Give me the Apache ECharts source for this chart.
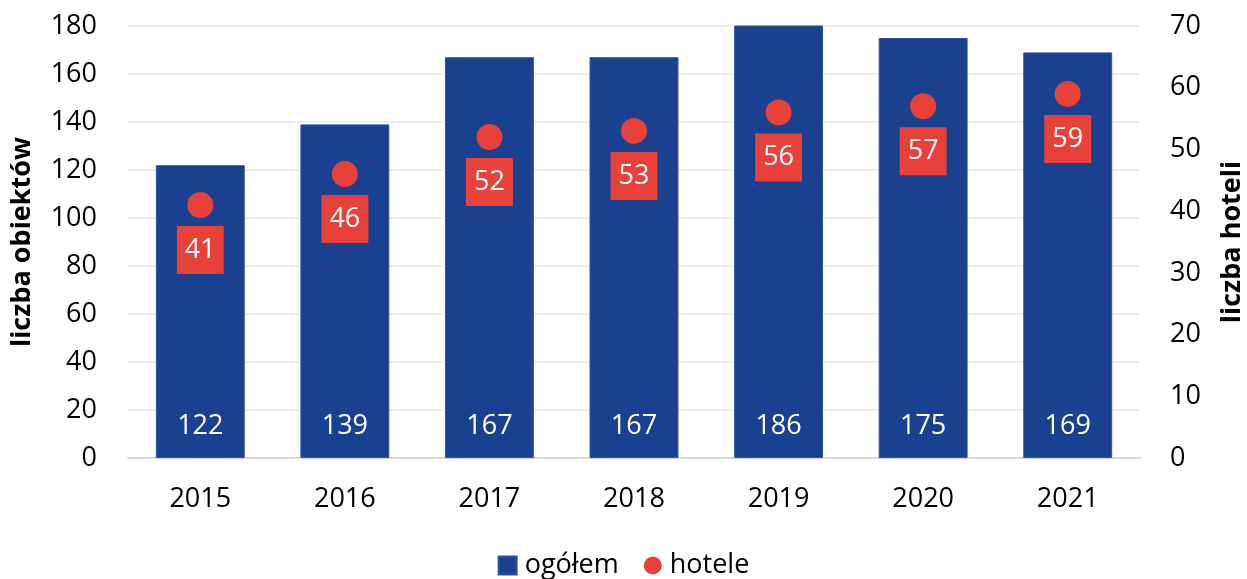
<!DOCTYPE html>
<html>
<head>
<meta charset="utf-8">
<script src="https://cdn.jsdelivr.net/npm/echarts@6/dist/echarts.min.js"></script>
<style>
  html, body { margin: 0; padding: 0; background: #fff; }
  #chart { width: 1247px; height: 579px; }
</style>
</head>
<body>
<div id="chart"></div>
<script>
const years = ['2015', '2016', '2017', '2018', '2019', '2020', '2021']
const ogolem = [122, 139, 167, 167, 186, 175, 169]
const hotele = [41, 46, 52, 53, 56, 57, 59]
const leftTicks = [0, 180, 20]
const rightTicks = [0, 70, 10]

const blue = '#1a418f'
const red = '#e8413a'
const font = 'Open Sans'

const chart = echarts.init(document.getElementById('chart'), null, { renderer: 'canvas' })

chart.setOption({
  animation: false,
  textStyle: { fontFamily: font },
  grid: { left: 128, right: 107, top: 26, bottom: 121, containLabel: false, outerBoundsMode: 'none' },
  legend: {
    left: 'center',
    top: 547,
    itemWidth: 18,
    itemHeight: 18,
    itemGap: 25,
    textStyle: { fontSize: 27, color: '#000', fontFamily: font, padding: [0, 0, 0, 3] },
    data: [
      { name: 'ogółem', icon: 'rect' },
      { name: 'hotele', icon: 'circle' }
    ]
  },
  xAxis: {
    type: 'category',
    data: years,
    axisTick: { show: false },
    axisLine: { lineStyle: { color: '#d9d9d9', width: 2 } },
    axisLabel: { color: '#000', fontSize: 27, margin: 28, fontFamily: font }
  },
  yAxis: [
    {
      type: 'value',
      min: leftTicks[0],
      max: leftTicks[1],
      interval: leftTicks[2],
      name: 'liczba obiektów',
      nameLocation: 'middle',
      nameGap: 92,
      nameTextStyle: { fontSize: 27, fontWeight: 'bold', color: '#000', fontFamily: font },
      axisLabel: { color: '#000', fontSize: 27, margin: 31, fontFamily: font },
      splitLine: { lineStyle: { color: '#eeeeee', width: 2 } }
    },
    {
      type: 'value',
      min: rightTicks[0],
      max: rightTicks[1],
      interval: rightTicks[2],
      name: 'liczba hoteli',
      nameLocation: 'middle',
      nameGap: 79,
      nameTextStyle: { fontSize: 27, fontWeight: 'bold', color: '#000', fontFamily: font },
      axisLabel: { color: '#000', fontSize: 27, margin: 30, fontFamily: font },
      splitLine: { show: false }
    }
  ],
  series: [
    {
      name: 'ogółem',
      type: 'bar',
      data: ogolem,
      yAxisIndex: 0,
      barWidth: '61.5%',
      itemStyle: { color: blue, borderColor: '#2f5597', borderWidth: 1 },
      label: {
        show: true,
        position: 'insideBottom',
        distance: 18,
        color: '#fff',
        fontSize: 27,
        fontFamily: font
      }
    },
    {
      name: 'hotele',
      type: 'scatter',
      data: hotele,
      yAxisIndex: 1,
      symbol: 'circle',
      symbolSize: 26,
      itemStyle: { color: red, opacity: 1 },
      label: {
        show: true,
        position: 'inside',
        offset: [0, 45],
        color: '#fff',
        fontSize: 27,
        fontFamily: font,
        lineHeight: 30,
        padding: [9, 8, 9, 8],
        backgroundColor: red
      }
    }
  ]
})
</script>
</body>
</html>
